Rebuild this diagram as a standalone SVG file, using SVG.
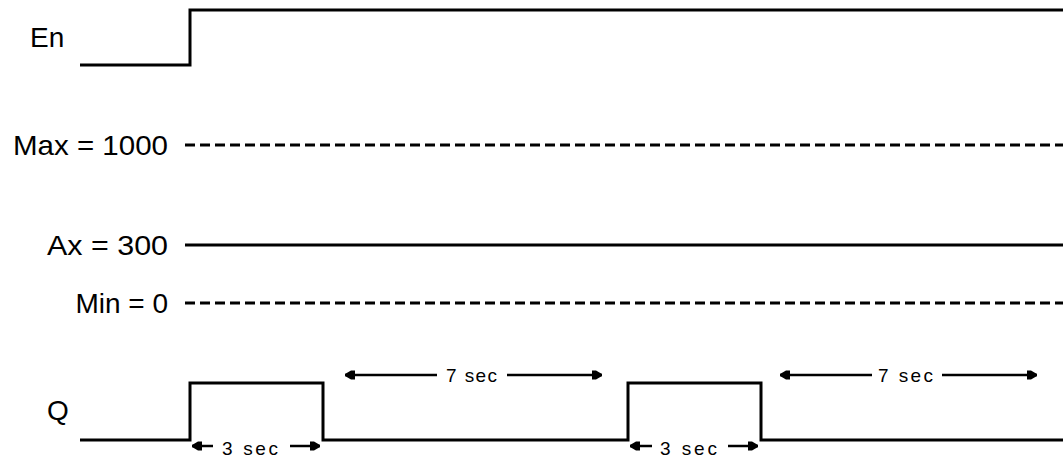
<svg xmlns="http://www.w3.org/2000/svg" width="1063" height="457" viewBox="0 0 1063 457">
  <style>
    .lbl { font-family: "Liberation Sans", Arial, sans-serif; font-size: 28px; fill: #000; }
    .dur { font-family: "Liberation Sans", Arial, sans-serif; font-size: 19px; fill: #000; }
    .wave { fill: none; stroke: #000; stroke-width: 3; stroke-linejoin: miter; }
    .dash { fill: none; stroke: #000; stroke-width: 3; stroke-dasharray: 10 5; }
    .dim { fill: none; stroke: #000; stroke-width: 2.5; marker-end: url(#ah); }
  </style>
  <defs>
    <marker id="ah" viewBox="0 0 10 10" refX="10" refY="5" markerUnits="userSpaceOnUse" markerWidth="10" markerHeight="10" orient="auto">
      <path d="M0,0.5 L4,0.5 L10,4 L10,6 L4,9.5 L0,9.5 z" fill="#000"/>
    </marker>
  </defs>
  <rect width="1063" height="457" fill="#fff"/>

  <g id="en">
    <text class="lbl" x="30" y="47">En</text>
    <path class="wave" d="M80,65 H190 V10 H1063"/>
  </g>

  <g id="max">
    <text class="lbl" x="168" y="155" text-anchor="end" textLength="155" lengthAdjust="spacingAndGlyphs">Max = 1000</text>
    <path class="dash" d="M185,145 H1063"/>
  </g>

  <g id="ax">
    <text class="lbl" x="168" y="255" text-anchor="end" textLength="121" lengthAdjust="spacingAndGlyphs">Ax = 300</text>
    <path class="wave" d="M185,245 H1063"/>
  </g>

  <g id="min">
    <text class="lbl" x="168" y="313" text-anchor="end">Min = 0</text>
    <path class="dash" d="M185,303 H1063"/>
  </g>

  <g id="q">
    <text class="lbl" x="47" y="420">Q</text>
    <path class="wave" d="M80,440 H190 V383 H323 V440 H628 V383 H761 V440 H1063"/>
  </g>

  <g id="connectors">
    <path class="dim" d="M213,446 H192"/>
    <path class="dim" d="M290,446 H320"/>
    <path class="dim" d="M437,375 H345"/>
    <path class="dim" d="M507,375 H602"/>
    <path class="dim" d="M652,446 H630"/>
    <path class="dim" d="M728,446 H758"/>
    <path class="dim" d="M872,375 H780"/>
    <path class="dim" d="M942,375 H1037"/>
  </g>

  <g id="durations">
    <text class="dur" x="222" y="455" textLength="56" lengthAdjust="spacing">3 sec</text>
    <text class="dur" x="446" y="382" textLength="51" lengthAdjust="spacing">7 sec</text>
    <text class="dur" x="660" y="455" textLength="57" lengthAdjust="spacing">3 sec</text>
    <text class="dur" x="878" y="382" textLength="55" lengthAdjust="spacing">7 sec</text>
  </g>
</svg>
